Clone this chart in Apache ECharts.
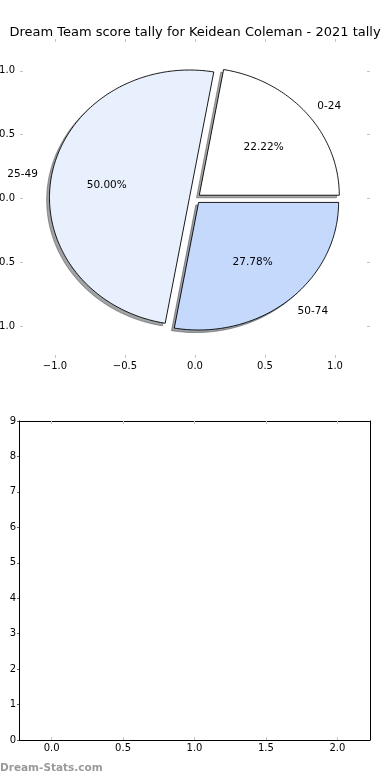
<!DOCTYPE html>
<html>
<head>
<meta charset="utf-8">
<script src="https://cdn.jsdelivr.net/npm/echarts@6/dist/echarts.min.js"></script>
<style>
html,body{margin:0;padding:0;background:#fff;}
#chart{width:390px;height:780px;}
</style>
</head>
<body>
<div id="chart"></div>
<script>
// ---- data ----
const categories = ['0-24', '25-49', '50-74'];
const counts = [4, 9, 5];
const pieXTicks = [-1.0, -0.5, 0.0, 0.5, 1.0];
const pieYTicks = [-1.0, -0.5, 0.0, 0.5, 1.0];
const barXTicks = [0.0, 0.5, 1.0, 1.5, 2.0];
const barYTicks = [0, 1, 2, 3, 4, 5, 6, 7, 8, 9];
const titleText = 'Dream Team score tally for Keidean Coleman - 2021 tally';
const watermark = 'Dream-Stats.com';

// ---- style ----
const sliceColors = ['#ffffff', '#e9f0fd', '#c5d9fd'];
const EXPLODE = 0.04;
const SHADOW = [-0.02, -0.02];
const FONT = 'DejaVu Sans';
const tickGray = '#c4c4c4';

const total = counts.reduce((a, b) => a + b, 0);
const starts = [];
let acc = 0;
counts.forEach(c => { starts.push(acc / total * 360); acc += c; });

function fmt1(v) { return v.toFixed(1).replace('-', '\u2212'); }

function slicePoints(api, i, dx, dy) {
  const s = starts[i];
  const e = s + counts[i] / total * 360;
  const mid = (s + e) / 2 * Math.PI / 180;
  const ox = EXPLODE * Math.cos(mid) + dx;
  const oy = EXPLODE * Math.sin(mid) + dy;
  const pts = [api.coord([ox, oy])];
  const n = Math.max(2, Math.ceil(e - s));
  for (let k = 0; k <= n; k++) {
    const a = (s + (e - s) * k / n) * Math.PI / 180;
    pts.push(api.coord([ox + Math.cos(a), oy + Math.sin(a)]));
  }
  return { pts, mid, ox, oy };
}

function shade(hex) {
  const r = parseInt(hex.slice(1, 3), 16), g = parseInt(hex.slice(3, 5), 16), b = parseInt(hex.slice(5, 7), 16);
  return 'rgba(' + Math.round(r * 0.3) + ',' + Math.round(g * 0.3) + ',' + Math.round(b * 0.3) + ',0.5)';
}

const chart = echarts.init(document.getElementById('chart'), null, { renderer: 'canvas' });

const pieAxisCommon = {
  type: 'value',
  min: -1.25, max: 1.25,
  axisLine: { show: false, onZero: false },
  splitLine: { show: false },
};

const option = {
  backgroundColor: '#ffffff',
  animation: false,
  title: {
    text: titleText,
    left: 'center',
    top: 21,
    textStyle: { fontFamily: FONT, fontSize: 13, fontWeight: 'normal', color: '#000' }
  },
  graphic: [{
    type: 'text', left: 0, top: 763,
    style: { text: watermark, font: 'bold 10.5px "DejaVu Sans"', fill: '#9a9a9a' }
  }],
  grid: [
    { left: 20, right: 20, top: 39, bottom: 422, containLabel: false, outerBoundsMode: 'none' },
    { left: 19, right: 20, top: 421, bottom: 40, containLabel: false, outerBoundsMode: 'none' }
  ],
  xAxis: [
    Object.assign({}, pieAxisCommon, {
      gridIndex: 0, position: 'bottom',
      axisTick: { show: true, inside: true, length: 3, lineStyle: { color: tickGray }, customValues: pieXTicks },
      axisLabel: { show: true, margin: 3, customValues: pieXTicks, formatter: fmt1, fontFamily: FONT, fontSize: 10, color: '#000' }
    }),
    Object.assign({}, pieAxisCommon, {
      gridIndex: 0, position: 'top',
      axisTick: { show: true, inside: true, length: 3, lineStyle: { color: tickGray }, customValues: pieXTicks },
      axisLabel: { show: false }
    }),
    {
      type: 'value', gridIndex: 1, position: 'bottom', min: -0.228, max: 2.228,
      axisLine: { show: true, onZero: false, lineStyle: { color: '#000', width: 1 } },
      splitLine: { show: false },
      axisTick: { show: true, inside: true, length: 3, lineStyle: { color: tickGray }, customValues: barXTicks },
      axisLabel: { show: true, margin: 3, customValues: barXTicks, formatter: fmt1, fontFamily: FONT, fontSize: 10, color: '#000' }
    },
    {
      type: 'value', gridIndex: 1, position: 'top', min: -0.228, max: 2.228,
      axisLine: { show: true, onZero: false, lineStyle: { color: '#000', width: 1 } },
      splitLine: { show: false },
      axisTick: { show: true, inside: true, length: 3, lineStyle: { color: tickGray }, customValues: barXTicks },
      axisLabel: { show: false }
    }
  ],
  yAxis: [
    Object.assign({}, pieAxisCommon, {
      gridIndex: 0, position: 'left',
      axisTick: { show: true, inside: true, length: 3, lineStyle: { color: tickGray }, customValues: pieYTicks },
      axisLabel: { show: true, margin: 5, customValues: pieYTicks, formatter: fmt1, fontFamily: FONT, fontSize: 10, color: '#000' }
    }),
    Object.assign({}, pieAxisCommon, {
      gridIndex: 0, position: 'right',
      axisTick: { show: true, inside: true, length: 3, lineStyle: { color: tickGray }, customValues: pieYTicks },
      axisLabel: { show: false }
    }),
    {
      type: 'value', gridIndex: 1, position: 'left', min: 0, max: 9,
      axisLine: { show: true, onZero: false, lineStyle: { color: '#000', width: 1 } },
      splitLine: { show: false },
      axisTick: { show: true, inside: false, length: 2, lineStyle: { color: '#666' }, customValues: barYTicks },
      axisLabel: { show: true, margin: 3, customValues: barYTicks, formatter: v => String(Math.round(v)), fontFamily: FONT, fontSize: 10, color: '#000' }
    },
    {
      type: 'value', gridIndex: 1, position: 'right', min: 0, max: 9,
      axisLine: { show: true, onZero: false, lineStyle: { color: '#000', width: 1 } },
      splitLine: { show: false },
      axisTick: { show: false },
      axisLabel: { show: false }
    }
  ],
  series: [
    {
      type: 'custom', name: 'shadow', coordinateSystem: 'cartesian2d', xAxisIndex: 0, yAxisIndex: 0, z: 1,
      silent: true,
      data: categories.map((c, i) => [0, 0, i]),
      renderItem: function (params, api) {
        const i = params.dataIndex;
        const sp = slicePoints(api, i, SHADOW[0], SHADOW[1]);
        return {
          type: 'polygon',
          shape: { points: sp.pts },
          style: { fill: shade(sliceColors[i]), stroke: shade(sliceColors[i]), lineWidth: 1 }
        };
      }
    },
    {
      type: 'custom', name: 'pie', coordinateSystem: 'cartesian2d', xAxisIndex: 0, yAxisIndex: 0, z: 2,
      silent: true,
      data: categories.map((c, i) => [0, 0, i]),
      renderItem: function (params, api) {
        const i = params.dataIndex;
        const sp = slicePoints(api, i, 0, 0);
        const cx = Math.cos(sp.mid), cy = Math.sin(sp.mid);
        const lab = api.coord([sp.ox + 1.1 * cx, sp.oy + 1.1 * cy]);
        const pct = api.coord([sp.ox + 0.6 * cx, sp.oy + 0.6 * cy]);
        const pctText = (counts[i] / total * 100).toFixed(2) + '%';
        return {
          type: 'group',
          children: [
            {
              type: 'polygon',
              shape: { points: sp.pts },
              style: { fill: sliceColors[i], stroke: '#000', lineWidth: 0.9 }
            },
            {
              type: 'text', x: lab[0], y: lab[1] + 1,
              style: { text: categories[i], align: cx > 0 ? 'left' : 'right', verticalAlign: 'middle', fontFamily: FONT, fontSize: 10.5, fill: '#000' }
            },
            {
              type: 'text', x: pct[0], y: pct[1] + 1,
              style: { text: pctText, align: 'center', verticalAlign: 'middle', fontFamily: FONT, fontSize: 10.5, fill: '#000' }
            }
          ]
        };
      }
    },
    {
      type: 'scatter', xAxisIndex: 2, yAxisIndex: 2, data: [], silent: true
    }
  ]
};

chart.setOption(option);
</script>
</body>
</html>
